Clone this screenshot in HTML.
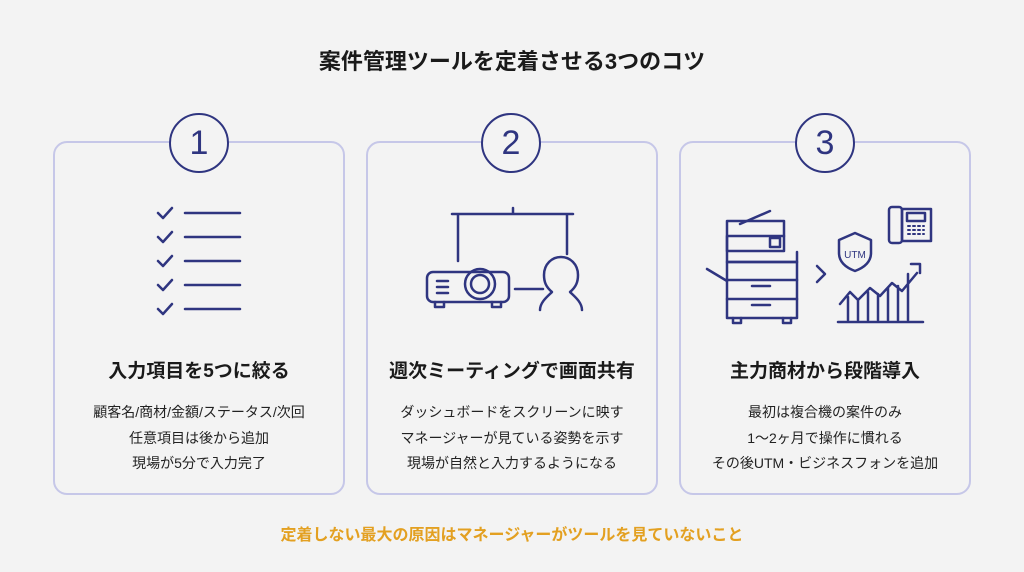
<!DOCTYPE html>
<html><head><meta charset="utf-8"><style>
body{margin:0;width:1024px;height:572px;background:#f3f3f3;position:relative;overflow:hidden;font-family:"Liberation Sans","Noto Sans CJK JP",sans-serif;color:#1a1a1a}
.t{position:absolute;width:100%;text-align:center}
.card{position:absolute;top:141px;height:354px;width:292px;border:2px solid #c6c7e8;border-radius:14px;box-sizing:border-box}
.circ{position:absolute;top:113px;width:60px;height:60px;border:2px solid #2f3580;border-radius:50%;background:#f3f3f3;box-sizing:border-box;text-align:center;line-height:56px;font-size:34px;color:#2f3580}
.h{position:absolute;top:356px;text-align:center;font-weight:bold;font-size:19px;width:292px}
.b{position:absolute;top:400px;text-align:center;font-size:14px;line-height:25.5px;width:292px;color:#222}
svg{position:absolute;left:0;top:0}
</style></head><body>
<div class="t" style="top:44px;font-size:22px;font-weight:bold">案件管理ツールを定着させる3つのコツ</div>
<div class="card" style="left:53px"></div>
<div class="card" style="left:366px"></div>
<div class="card" style="left:679px"></div>
<div class="circ" style="left:169px">1</div>
<div class="circ" style="left:481px">2</div>
<div class="circ" style="left:795px">3</div>
<div class="h" style="left:53px">入力項目を5つに絞る</div>
<div class="h" style="left:366px">週次ミーティングで画面共有</div>
<div class="h" style="left:679px">主力商材から段階導入</div>
<div class="b" style="left:53px">顧客名/商材/金額/ステータス/次回<br>任意項目は後から追加<br>現場が5分で入力完了</div>
<div class="b" style="left:366px">ダッシュボードをスクリーンに映す<br>マネージャーが見ている姿勢を示す<br>現場が自然と入力するようになる</div>
<div class="b" style="left:679px">最初は複合機の案件のみ<br>1〜2ヶ月で操作に慣れる<br>その後UTM・ビジネスフォンを追加</div>
<div class="t" style="top:521px;font-size:16px;font-weight:bold;color:#e3a021">定着しない最大の原因はマネージャーがツールを見ていないこと</div>
<svg width="1024" height="572" fill="none" stroke="#2f3580" stroke-width="2.5" stroke-linecap="round" stroke-linejoin="round">
<g>
<path d="M158 213l5 5 9-10M158 237l5 5 9-10M158 261l5 5 9-10M158 285l5 5 9-10M158 309l5 5 9-10"/>
<path d="M185 213h55M185 237h55M185 261h55M185 285h55M185 309h55"/>
</g>
<g>
<path d="M452 214h121M513 208v6M458 214v47M567 214v40"/>
<rect x="427" y="272" width="82" height="30" rx="6"/>
<circle cx="480" cy="284" r="15"/><circle cx="480" cy="284" r="9"/>
<path d="M437 281h11M437 287h11M437 293h11M435 302v5h9v-5M492 302v5h9v-5M515 289h28"/>
<path d="M540 310c0-8 8-14 12-18-6-5-8-10-8-17 0-11 8-18 17-18s17 7 17 18c0 7-2 12-8 17 4 4 12 10 12 18"/>
</g>
<g>
<rect x="727" y="221" width="57" height="30"/><path d="M740 224l30-13M727 251v-15h57"/>
<rect x="770" y="238" width="10" height="9"/>
<rect x="727" y="262" width="70" height="56"/><path d="M727 280h70M727 299h70M752 286h18M752 305h18M707 269l20 12"/>
<path d="M733 318v5h8v-5M783 318v5h8v-5M727 252v10h70v-10"/>
<path d="M817 266l8 8-8 8"/>
<path d="M855 233l16 7v13c0 10-8 15-16 18-8-3-16-8-16-18v-13z"/>
<text x="855" y="258" fill="#2f3580" stroke="none" font-size="10" text-anchor="middle" font-family="Liberation Sans">UTM</text>
<rect x="889" y="207" width="13" height="36" rx="3"/><rect x="902" y="209" width="29" height="32"/><rect x="907" y="213" width="18" height="8"/>
<path d="M908 226h16M908 230h16M908 234h16" stroke-width="2" stroke-dasharray="2 3"/>
<path d="M838 322h85M840 304l10-12 8 8 12-12 10 8 12-13 10 8 15-18M911 264h9v9M848 320v-23M858 320v-20M868 320v-28M878 320v-26M888 320v-32M898 320v-34M908 320v-46"/>
</g>
</svg>
</body></html>
